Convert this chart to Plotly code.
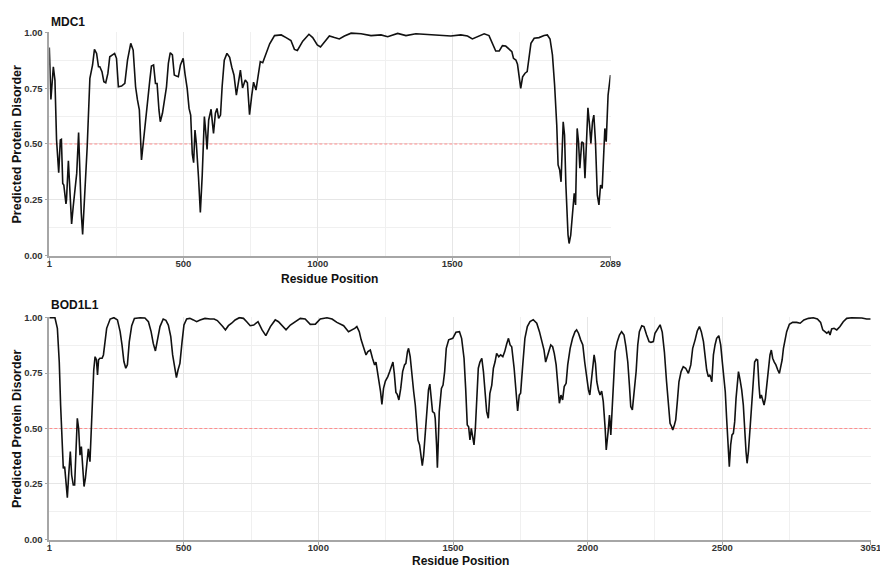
import plotly.graph_objects as go

# ---------------- data ----------------
mdc1_residue = [1, 7, 16, 22, 28, 36, 42, 46, 51, 55, 63, 65, 72, 76, 84, 90, 98, 103, 110, 115,
                120, 125, 132, 142, 152, 162, 169, 177, 184, 189, 197, 204, 211, 219, 226, 236, 244,
                251, 258, 270, 282, 292, 304, 313, 322, 329, 336, 344, 350, 357, 366, 375, 381, 389,
                396, 402, 409, 414, 422, 429, 437, 444, 451, 459, 466, 474, 481, 489, 499, 506, 514,
                521, 527, 533, 538, 543, 548, 556, 563, 570, 578, 583, 588, 594, 603, 608, 612, 619,
                625, 631, 638, 644, 652, 662, 672, 680, 688, 697, 705, 712, 720, 730, 738, 746, 754,
                761, 770, 777, 786, 795, 808, 821, 839, 864, 882, 900, 913, 924, 944, 967, 981, 998,
                1010, 1025, 1043, 1062, 1080, 1099, 1124, 1161, 1198, 1235, 1260, 1297, 1328, 1365,
                1433, 1495, 1532, 1557, 1575, 1594, 1619, 1637, 1650, 1662, 1675, 1687, 1699, 1712,
                1722, 1728, 1737, 1743, 1750, 1755, 1762, 1771, 1779, 1786, 1793, 1805, 1823, 1842,
                1854, 1864, 1873, 1881, 1889, 1894, 1900, 1905, 1909, 1913, 1918, 1923, 1931, 1935,
                1941, 1948, 1954, 1959, 1965, 1970, 1975, 1982, 1988, 1994, 2000, 2005, 2011, 2016,
                2022, 2027, 2033, 2040, 2046, 2052, 2058, 2063, 2068, 2073, 2080, 2089]
mdc1_disorder = [0.933, 0.70, 0.847, 0.787, 0.518, 0.371, 0.518, 0.521, 0.323, 0.316, 0.231, 0.249,
                 0.425, 0.316, 0.141, 0.219, 0.296, 0.368, 0.551, 0.353, 0.189, 0.094, 0.234, 0.488,
                 0.795, 0.855, 0.925, 0.907, 0.847, 0.847, 0.825, 0.78, 0.775, 0.817, 0.892, 0.90,
                 0.907, 0.885, 0.757, 0.76, 0.772, 0.877, 0.952, 0.922, 0.757, 0.698, 0.653, 0.428,
                 0.503, 0.593, 0.683, 0.787, 0.85, 0.855, 0.772, 0.772, 0.653, 0.60, 0.638, 0.69,
                 0.757, 0.862, 0.91, 0.90, 0.81, 0.805, 0.802, 0.855, 0.885, 0.814, 0.75, 0.66, 0.63,
                 0.455, 0.416, 0.563, 0.503, 0.353, 0.192, 0.36, 0.623, 0.555, 0.476, 0.608, 0.656,
                 0.593, 0.548, 0.638, 0.66, 0.615, 0.63, 0.757, 0.877, 0.907, 0.889, 0.845, 0.81,
                 0.72, 0.775, 0.832, 0.752, 0.787, 0.775, 0.632, 0.716, 0.778, 0.742, 0.802, 0.87,
                 0.865, 0.912, 0.95, 0.987, 0.99, 0.978, 0.965, 0.925, 0.92, 0.962, 0.993, 0.978,
                 0.945, 0.936, 0.96, 0.985, 0.978, 0.972, 0.985, 0.998, 0.995, 0.987, 0.99, 0.982,
                 0.997, 0.987, 0.995, 0.99, 0.985, 0.99, 0.985, 0.972, 0.982, 0.995, 0.987, 0.952,
                 0.918, 0.918, 0.942, 0.94, 0.927, 0.915, 0.885, 0.877, 0.858, 0.802, 0.75, 0.802,
                 0.818, 0.825, 0.9, 0.952, 0.975, 0.978, 0.987, 0.99, 0.972, 0.9, 0.765, 0.585, 0.406,
                 0.383, 0.33, 0.435, 0.60, 0.54, 0.316, 0.091, 0.053, 0.091, 0.196, 0.278, 0.226,
                 0.57, 0.51, 0.391, 0.51, 0.504, 0.346, 0.555, 0.663, 0.585, 0.503, 0.60, 0.63, 0.51,
                 0.27, 0.226, 0.316, 0.30, 0.45, 0.57, 0.51, 0.72, 0.81]

bod1l1_residue = [1, 22, 31, 38, 43, 49, 53, 58, 62, 68, 73, 79, 84, 90, 95, 100, 105, 110, 115, 120,
                  125, 130, 135, 140, 146, 152, 156, 161, 166, 171, 176, 180, 184, 189, 197, 202, 208,
                  214, 227, 241, 254, 264, 271, 278, 285, 291, 298, 307, 317, 338, 356, 369, 379, 387,
                  395, 402, 412, 424, 434, 443, 452, 459, 467, 473, 479, 486, 494, 501, 511, 523, 536,
                  548, 561, 579, 598, 613, 625, 635, 645, 655, 666, 678, 691, 707, 722, 734, 747, 760,
                  776, 791, 805, 822, 840, 852, 867, 880, 896, 914, 933, 951, 970, 989, 1007, 1032,
                  1051, 1069, 1094, 1112, 1125, 1135, 1143, 1152, 1159, 1168, 1177, 1184, 1193, 1201,
                  1209, 1214, 1220, 1226, 1231, 1236, 1242, 1249, 1258, 1265, 1271, 1277, 1282, 1288,
                  1293, 1299, 1306, 1313, 1320, 1325, 1331, 1335, 1341, 1348, 1354, 1360, 1366, 1370,
                  1376, 1381, 1386, 1391, 1397, 1403, 1409, 1414, 1419, 1424, 1431, 1434, 1439, 1442,
                  1445, 1449, 1457, 1463, 1469, 1475, 1484, 1499, 1511, 1524, 1532, 1541, 1547, 1553,
                  1558, 1563, 1568, 1573, 1578, 1583, 1588, 1594, 1600, 1607, 1613, 1619, 1625, 1631,
                  1637, 1644, 1650, 1656, 1662, 1670, 1677, 1685, 1692, 1699, 1706, 1712, 1718, 1727,
                  1734, 1740, 1746, 1751, 1759, 1767, 1776, 1786, 1798, 1811, 1821, 1829, 1838, 1844,
                  1850, 1857, 1863, 1870, 1876, 1883, 1889, 1895, 1901, 1907, 1913, 1920, 1926, 1935,
                  1944, 1953, 1959, 1966, 1974, 1982, 1989, 1996, 2003, 2008, 2014, 2019, 2024, 2029,
                  2034, 2040, 2046, 2052, 2058, 2065, 2069, 2076, 2081, 2086, 2090, 2095, 2102, 2110,
                  2118, 2126, 2135, 2142, 2149, 2155, 2160, 2166, 2172, 2180, 2186, 2192, 2201, 2209,
                  2219, 2228, 2235, 2244, 2250, 2259, 2269, 2277, 2285, 2293, 2301, 2306, 2312, 2316,
                  2322, 2327, 2333, 2339, 2347, 2355, 2364, 2374, 2383, 2390, 2399, 2407, 2415, 2422,
                  2430, 2436, 2442, 2448, 2454, 2461, 2467, 2473, 2479, 2487, 2494, 2500, 2506, 2511,
                  2516, 2521, 2526, 2531, 2536, 2541, 2546, 2551, 2556, 2560, 2566, 2572, 2578, 2583,
                  2588, 2592, 2597, 2603, 2609, 2615, 2620, 2626, 2631, 2636, 2640, 2645, 2650, 2655,
                  2660, 2665, 2671, 2677, 2682, 2687, 2693, 2699, 2706, 2712, 2717, 2722, 2727, 2733,
                  2739, 2749, 2761, 2776, 2789, 2803, 2820, 2838, 2853, 2865, 2873, 2881, 2888, 2895,
                  2900, 2906, 2915, 2925, 2937, 2949, 2962, 2980, 2999, 3018, 3036, 3051]
bod1l1_disorder = [1.0, 1.0, 0.952, 0.80, 0.606, 0.41, 0.32, 0.328, 0.275, 0.188, 0.29, 0.396, 0.29,
                   0.245, 0.245, 0.41, 0.546, 0.50, 0.38, 0.418, 0.328, 0.238, 0.275, 0.328, 0.408,
                   0.35, 0.456, 0.636, 0.764, 0.824, 0.81, 0.742, 0.81, 0.817, 0.817, 0.832, 0.892,
                   0.952, 0.994, 1.0, 0.99, 0.937, 0.877, 0.802, 0.772, 0.787, 0.892, 0.964, 0.997,
                   1.0, 0.999, 0.982, 0.937, 0.884, 0.85, 0.892, 0.96, 0.994, 0.988, 0.967, 0.915,
                   0.832, 0.772, 0.73, 0.764, 0.794, 0.892, 0.967, 0.994, 0.997, 0.99, 0.982, 0.99,
                   0.997, 0.994, 0.994, 0.987, 0.975, 0.96, 0.945, 0.964, 0.975, 0.99, 1.0, 0.997,
                   0.982, 0.964, 0.967, 0.982, 0.945, 0.919, 0.96, 0.99, 0.982, 0.96, 0.945, 0.967,
                   0.982, 0.997, 0.994, 0.97, 0.971, 0.994, 1.0, 0.994, 0.979, 0.964, 0.937, 0.945,
                   0.952, 0.96, 0.937, 0.9, 0.869, 0.832, 0.847, 0.854, 0.817, 0.787, 0.80, 0.757,
                   0.704, 0.666, 0.609, 0.681, 0.714, 0.734, 0.757, 0.78, 0.80, 0.749, 0.663, 0.654,
                   0.629, 0.681, 0.757, 0.787, 0.794, 0.847, 0.862, 0.824, 0.719, 0.666, 0.606, 0.516,
                   0.448, 0.426, 0.373, 0.332, 0.38, 0.486, 0.606, 0.674, 0.70, 0.636, 0.576, 0.569,
                   0.546, 0.426, 0.323, 0.426, 0.576, 0.681, 0.696, 0.757, 0.862, 0.90, 0.907, 0.934,
                   0.937, 0.907, 0.817, 0.681, 0.516, 0.508, 0.448, 0.50, 0.463, 0.426, 0.50, 0.651,
                   0.772, 0.80, 0.817, 0.757, 0.651, 0.576, 0.546, 0.659, 0.696, 0.772, 0.80, 0.839,
                   0.824, 0.832, 0.824, 0.847, 0.88, 0.907, 0.877, 0.869, 0.772, 0.651, 0.579, 0.651,
                   0.659, 0.787, 0.907, 0.96, 0.982, 0.991, 0.975, 0.937, 0.892, 0.854, 0.80, 0.824,
                   0.862, 0.877, 0.869, 0.839, 0.787, 0.704, 0.614, 0.651, 0.629, 0.689, 0.704, 0.787,
                   0.862, 0.907, 0.937, 0.945, 0.93, 0.90, 0.877, 0.80, 0.727, 0.674, 0.651, 0.719,
                   0.779, 0.832, 0.794, 0.711, 0.674, 0.651, 0.669, 0.621, 0.50, 0.403, 0.486, 0.561,
                   0.471, 0.576, 0.696, 0.847, 0.892, 0.922, 0.937, 0.922, 0.869, 0.80, 0.696, 0.599,
                   0.584, 0.651, 0.757, 0.877, 0.937, 0.964, 0.96, 0.922, 0.892, 0.889, 0.892, 0.93,
                   0.949, 0.968, 0.935, 0.845, 0.711, 0.606, 0.523, 0.508, 0.493, 0.516, 0.539, 0.621,
                   0.711, 0.757, 0.779, 0.772, 0.749, 0.787, 0.862, 0.90, 0.94, 0.96, 0.937, 0.892,
                   0.832, 0.764, 0.734, 0.742, 0.711, 0.832, 0.877, 0.907, 0.919, 0.877, 0.80, 0.727,
                   0.666, 0.546, 0.396, 0.328, 0.426, 0.471, 0.478, 0.531, 0.636, 0.704, 0.757, 0.719,
                   0.674, 0.606, 0.486, 0.396, 0.343, 0.396, 0.50, 0.591, 0.696, 0.80, 0.812, 0.809,
                   0.696, 0.636, 0.651, 0.629, 0.606, 0.636, 0.704, 0.787, 0.832, 0.854, 0.817, 0.80,
                   0.787, 0.764, 0.749, 0.779, 0.809, 0.862, 0.907, 0.937, 0.97, 0.979, 0.979, 0.975,
                   0.99, 0.997, 1.0, 0.994, 0.979, 0.945, 0.937, 0.93, 0.937, 0.922, 0.949, 0.952,
                   0.945, 0.96, 0.982, 0.997, 1.0, 1.0, 0.999, 0.994, 0.994]

threshold = 0.5
proteins = ["MDC1", "BOD1L1"]
mdc1_ticks = [1, 500, 1000, 1500, 2089]
mdc1_minor = [250, 750, 1250, 1750]
bod1l1_ticks = [1, 500, 1000, 1500, 2000, 2500, 3051]
bod1l1_minor = [250, 750, 1250, 1750, 2250, 2750]
y_ticks = [0.0, 0.25, 0.5, 0.75, 1.0]
y_minor = [0.125, 0.375, 0.625, 0.875]
y_title = "Predicted Protein Disorder"
x_title = "Residue Position"

# ---------------- figure ----------------
W, H = 880, 567
FONT = "Liberation Sans, Arial, sans-serif"

def px_x(p):
    return p / W

def px_y(p):
    return 1 - p / H

panels = [
    dict(res=mdc1_residue, dis=mdc1_disorder, ticks=mdc1_ticks, minor=mdc1_minor,
         x0=49.3, x1=610.5, ytop=32.7, ybot=255.3, title_y=21.5, xtitle_y=278.5),
    dict(res=bod1l1_residue, dis=bod1l1_disorder, ticks=bod1l1_ticks, minor=bod1l1_minor,
         x0=49.3, x1=870.7, ytop=317.7, ybot=539.3, title_y=305.0, xtitle_y=560.5),
]

fig = go.Figure()
annotations = []
pad = 0.004
for i, p in enumerate(panels):
    xa = "x" if i == 0 else f"x{i+1}"
    ya = "y" if i == 0 else f"y{i+1}"
    fig.add_trace(go.Scatter(x=[p["res"][0], p["res"][-1]], y=[threshold, threshold],
                             mode="lines", line=dict(color="#ff8c8c", width=1, dash="3px,2px"),
                             xaxis=xa, yaxis=ya, showlegend=False, hoverinfo="skip"))
    fig.add_trace(go.Scatter(x=p["res"], y=p["dis"], mode="lines",
                             line=dict(color="#111111", width=1.6),
                             xaxis=xa, yaxis=ya, showlegend=False, name=proteins[i]))
    scale = (p["ybot"] - p["ytop"])
    pad_px = pad * scale
    xkey = "xaxis" if i == 0 else f"xaxis{i+1}"
    ykey = "yaxis" if i == 0 else f"yaxis{i+1}"
    fig.layout[xkey] = dict(
        domain=[px_x(p["x0"]), px_x(p["x1"])], range=[p["ticks"][0], p["ticks"][-1]],
        anchor=ya, automargin=False, tickmode="array", tickvals=p["ticks"],
        ticktext=[str(t) for t in p["ticks"]], ticklabeloverflow="allow",
        ticklabelstandoff=-5,
        showgrid=True, gridcolor="#e6e6e6", gridwidth=1, zeroline=False,
        showline=True, linecolor="#a6a6a6", linewidth=1.5,
        ticks="outside", ticklen=3, tickcolor="#a6a6a6", tickwidth=1,
        tickfont=dict(family=FONT, size=9.5, color="#333333", weight="bold"),
        minor=dict(tickmode="array", tickvals=p["minor"], showgrid=True,
                   gridcolor="#f0f0f0", gridwidth=1, ticks=""),
    )
    fig.layout[ykey] = dict(
        domain=[px_y(p["ybot"] + pad_px), px_y(p["ytop"] - pad_px)], range=[-pad, 1 + pad],
        anchor=xa, automargin=False, tickmode="array", tickvals=y_ticks,
        ticktext=[f"{v:.2f}" for v in y_ticks], ticklabeloverflow="allow",
        showgrid=True, gridcolor="#e6e6e6", gridwidth=1, zeroline=False,
        showline=True, linecolor="#a6a6a6", linewidth=1.5,
        ticks="outside", ticklen=3, tickcolor="#a6a6a6", tickwidth=1,
        tickfont=dict(family=FONT, size=9.5, color="#333333", weight="bold"),
        minor=dict(tickmode="array", tickvals=y_minor, showgrid=True,
                   gridcolor="#f0f0f0", gridwidth=1, ticks=""),
    )
    annotations.append(dict(text=proteins[i], x=px_x(p["x0"]), y=px_y(p["title_y"]),
                            xref="paper", yref="paper", xanchor="left", yanchor="middle",
                            showarrow=False, font=dict(family=FONT, size=12, color="#111111", weight="bold")))
    annotations.append(dict(text=y_title, x=px_x(16.5), y=px_y((p["ytop"] + p["ybot"]) / 2),
                            xref="paper", yref="paper", xanchor="center", yanchor="middle",
                            textangle=-90, showarrow=False,
                            font=dict(family=FONT, size=12.5, color="#111111", weight="bold")))
    annotations.append(dict(text=x_title, x=px_x((p["x0"] + p["x1"]) / 2), y=px_y(p["xtitle_y"]),
                            xref="paper", yref="paper", xanchor="center", yanchor="middle",
                            showarrow=False,
                            font=dict(family=FONT, size=12, color="#111111", weight="bold")))

fig.update_layout(width=W, height=H, margin=dict(l=0, r=0, t=0, b=0, autoexpand=False),
                  paper_bgcolor="white", plot_bgcolor="white",
                  annotations=annotations, showlegend=False)

fig.write_html("out.html")
